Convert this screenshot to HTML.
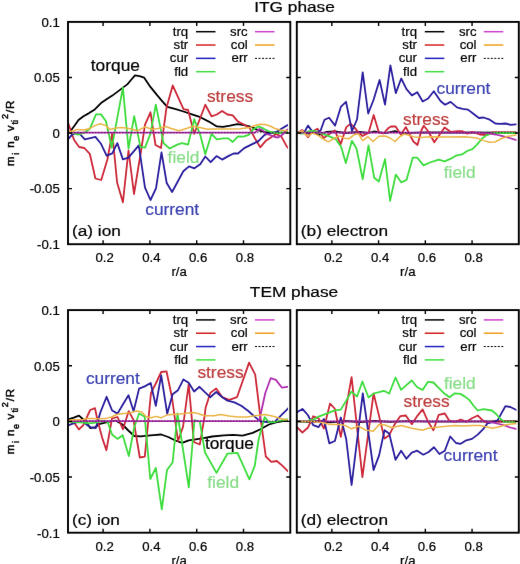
<!DOCTYPE html>
<html><head><meta charset="utf-8"><style>
html,body{margin:0;padding:0;background:#fff;}
svg{display:block;font-family:"Liberation Sans",sans-serif;will-change:transform;}
</style></head><body>
<svg width="520" height="564" viewBox="0 0 520 564">
<defs><filter id="bl" x="0" y="0" width="520" height="564" filterUnits="userSpaceOnUse" color-interpolation-filters="sRGB"><feConvolveMatrix order="3" kernelMatrix="0.005 0.035 0.005 0.035 0.84 0.035 0.005 0.035 0.005" preserveAlpha="false" edgeMode="duplicate"/></filter></defs>
<rect width="520" height="564" fill="#fff"/>
<g filter="url(#bl)">
<clipPath id="cpa"><rect x="68.0" y="21.9" width="219.90" height="222.30"/></clipPath>
<g clip-path="url(#cpa)">
<polyline points="68.0,133.0 70.4,131.3 74.1,126.3 78.5,120.0 83.5,116.3 89.1,113.1 94.8,109.4 101.0,103.1 107.3,98.8 112.3,95.6 117.3,91.9 122.3,88.1 127.3,84.4 131.0,80.0 135.0,75.4 139.6,76.2 144.2,77.7 150.4,86.9 157.3,95.4 161.9,100.8 167.3,106.9 175.8,109.2 183.5,111.5 192.7,114.6 200.4,117.2 208.8,121.6 216.8,126.4 223.0,126.9 230.1,125.7 237.2,124.2 244.2,125.1 251.3,126.9 258.4,130.4 265.5,132.2 274.0,132.7 290.0,132.7" fill="none" stroke="#000" stroke-width="1.8" stroke-linejoin="round"/>
<polyline points="68.0,122.5 71.0,131.3 74.1,140.0 79.1,147.0 84.3,148.0 89.8,153.8 95.4,178.5 101.2,180.0 107.4,159.5 112.3,133.0 117.1,182.5 122.9,202.3 128.5,150.5 134.0,194.0 141.5,148.0 145.0,124.6 150.5,112.3 155.5,145.0 161.0,148.0 166.5,107.7 172.7,85.4 183.5,109.2 188.1,110.0 194.2,133.8 205.3,104.8 211.5,116.3 216.8,114.5 222.1,111.0 227.4,114.5 232.7,115.4 238.0,121.6 243.4,124.2 249.6,127.8 254.9,138.4 260.2,147.3 265.5,141.1 270.8,137.5 276.1,134.0 281.4,136.6 286.7,146.4 290.0,150.0" fill="none" stroke="#cc2838" stroke-width="1.8" stroke-linejoin="round"/>
<polyline points="68.0,139.4 72.3,134.4 78.5,132.5 84.8,139.4 90.4,138.1 95.4,136.9 101.0,143.8 106.6,155.6 112.3,153.3 117.3,143.1 122.9,159.4 128.5,157.6 138.8,145.4 145.0,187.7 150.5,200.0 156.0,188.3 161.5,152.3 166.7,183.0 172.1,192.0 177.5,182.0 183.3,171.2 189.0,166.4 194.4,168.3 200.2,164.2 205.3,156.5 210.7,162.2 216.5,156.1 222.1,159.6 228.3,156.1 233.6,153.5 238.0,153.5 244.2,148.1 251.3,144.6 258.4,141.1 264.6,134.9 269.9,133.1 276.1,132.2 281.4,128.7 287.6,125.1 290.0,124.0" fill="none" stroke="#2a1e9e" stroke-width="1.8" stroke-linejoin="round"/>
<polyline points="68.7,132.7 74.0,133.4 78.1,134.7 84.0,133.0 89.8,128.8 96.0,114.4 101.0,114.4 106.0,121.3 111.8,147.7 122.9,87.6 128.5,148.5 134.2,116.1 140.4,146.9 145.0,147.7 150.4,133.8 155.8,104.6 163.5,143.1 169.6,148.5 177.3,144.6 181.9,143.1 188.1,144.6 194.2,119.2 200.4,135.4 205.3,154.3 211.5,134.0 216.8,139.3 223.0,138.4 228.3,138.4 232.7,142.0 238.0,136.3 243.4,136.6 248.7,134.9 253.1,129.6 258.4,126.4 263.7,128.7 270.8,132.2 277.9,133.1 285.0,132.2 290.0,131.0" fill="none" stroke="#3cdc3c" stroke-width="1.8" stroke-linejoin="round"/>
<polyline points="68.0,132.7 255.0,132.5 259.5,129.0 263.0,130.5 266.0,134.0 270.0,135.0 275.0,137.0 278.0,137.5 282.0,135.0 287.0,130.0 290.0,128.0" fill="none" stroke="#b030b0" stroke-width="1.8" stroke-linejoin="round"/>
<polyline points="68.7,132.0 74.0,130.7 77.3,129.4 83.5,130.0 89.1,128.8 94.8,125.6 100.4,123.8 106.0,125.6 109.8,129.4 116.0,128.1 121.0,127.5 126.0,128.1 131.0,129.0 137.3,130.8 145.0,126.9 151.9,129.2 158.0,128.5 165.8,126.5 171.2,128.5 178.8,130.8 186.5,128.5 192.7,126.2 200.0,127.5 207.1,129.3 214.2,129.0 223.0,129.0 232.0,129.1 240.0,128.8 250.0,127.5 255.0,125.5 260.0,124.2 265.0,124.5 270.0,126.0 275.0,128.5 280.0,130.0 285.0,130.5 290.0,130.5" fill="none" stroke="#ebb446" stroke-width="1.5" stroke-linejoin="round"/>
<polyline points="68.0,132.7 290.0,132.7" fill="none" stroke="#303" stroke-dasharray="1.5,1.5" stroke-width="1.2" stroke-opacity="0.55" stroke-linejoin="round"/>
<text transform="translate(90.80,70.60) scale(1.05,1)" font-size="16.5" text-anchor="start" fill="#000" stroke="#000" stroke-width="0.2" >torque</text>
<text transform="translate(206.90,101.90) scale(1.05,1)" font-size="16.5" text-anchor="start" fill="#bc3c3c" stroke="#bc3c3c" stroke-width="0.2" >stress</text>
<text transform="translate(167.60,163.40) scale(1.05,1)" font-size="16.5" text-anchor="start" fill="#88dd88" stroke="#88dd88" stroke-width="0.2" >field</text>
<text transform="translate(145.30,214.70) scale(1.05,1)" font-size="16.5" text-anchor="start" fill="#3a40b0" stroke="#3a40b0" stroke-width="0.2" >current</text>
</g>
<clipPath id="cpb"><rect x="296.8" y="21.9" width="219.60" height="222.30"/></clipPath>
<g clip-path="url(#cpb)">
<polyline points="297.0,133.0 302.0,132.0 308.0,133.5 314.0,132.5 319.0,135.0 326.0,132.0 335.0,131.5 345.0,133.0 352.0,132.5 360.0,132.0 368.0,133.0 373.7,131.5 385.0,133.2 395.0,131.2 402.0,133.0 410.0,132.8 425.0,132.3 519.0,132.7" fill="none" stroke="#000" stroke-width="1.8" stroke-linejoin="round"/>
<polyline points="297.5,133.0 302.2,130.0 307.9,137.3 312.5,131.5 317.5,128.8 323.7,138.1 328.5,134.5 334.8,130.5 340.6,144.4 346.3,127.1 350.7,123.8 355.0,128.1 357.9,131.9 362.5,136.0 368.5,132.9 373.7,115.0 378.8,132.3 383.5,133.5 388.1,128.3 391.0,126.5 395.6,126.5 400.8,134.6 405.9,127.1 409.4,134.0 413.4,141.5 417.5,145.0 421.5,130.0 423.8,125.8 428.4,131.5 434.3,142.3 444.6,127.5 450.8,131.9 457.9,131.2 462.0,131.1 467.2,133.7 472.4,131.9 479.8,134.5 487.1,135.0 492.0,132.5 519.0,132.5" fill="none" stroke="#cc2838" stroke-width="1.8" stroke-linejoin="round"/>
<polyline points="297.5,133.0 304.6,131.8 308.0,125.6 311.8,130.7 316.2,132.1 320.5,130.7 324.5,119.8 329.1,117.7 335.1,125.6 341.0,106.6 346.0,101.8 352.0,131.0 357.0,119.5 362.7,72.3 368.2,113.5 373.5,100.0 379.6,80.0 385.0,104.6 390.4,65.4 395.8,93.1 401.2,78.5 406.5,89.2 411.9,95.4 417.3,92.3 422.7,101.5 428.1,98.5 433.8,91.3 440.5,101.0 445.1,104.7 450.6,101.9 457.0,107.4 462.5,108.9 468.0,109.6 473.4,113.8 478.9,118.0 483.5,117.5 489.0,119.3 495.4,123.5 500.0,123.9 505.4,123.5 510.9,124.8 515.5,124.4 519.0,124.4" fill="none" stroke="#2a1e9e" stroke-width="1.8" stroke-linejoin="round"/>
<polyline points="297.5,133.0 303.0,133.5 308.3,131.5 311.4,130.8 315.2,131.2 318.5,132.5 322.7,133.8 328.8,136.2 335.8,139.2 341.2,146.9 345.8,163.1 351.9,140.8 356.5,148.5 362.7,179.2 368.5,145.4 374.2,177.7 378.8,181.5 385.0,159.2 390.1,200.8 395.8,174.6 401.2,182.3 406.5,180.0 412.7,157.7 417.3,157.7 423.5,165.4 430.0,162.5 438.7,159.6 444.7,161.3 450.8,158.7 456.8,155.3 462.0,154.4 467.2,151.0 472.4,149.2 476.7,144.9 481.9,138.8 486.2,135.4 490.6,133.7 495.0,133.0 519.0,133.0" fill="none" stroke="#3cdc3c" stroke-width="1.8" stroke-linejoin="round"/>
<polyline points="297.0,132.7 480.0,132.7 488.0,133.2 495.7,134.5 502.7,136.2 509.6,138.0 516.5,140.2 519.0,141.0" fill="none" stroke="#b030b0" stroke-width="1.8" stroke-linejoin="round"/>
<polyline points="297.5,133.0 302.2,130.8 307.5,136.5 312.5,133.0 318.3,135.4 322.2,138.5 328.3,141.8 333.0,139.0 339.6,135.8 344.4,138.2 349.2,138.7 354.0,134.8 358.4,133.8 362.7,140.6 368.0,136.7 373.1,141.5 378.8,136.3 385.0,136.0 390.0,138.0 395.0,141.5 399.6,136.9 404.2,134.0 408.8,135.2 414.6,136.9 420.4,137.5 430.0,136.8 447.3,137.1 464.6,136.8 476.7,138.0 483.6,140.6 489.7,142.3 494.9,142.0 500.9,138.8 507.9,136.2 516.5,135.0 519.0,134.8" fill="none" stroke="#ebb446" stroke-width="1.5" stroke-linejoin="round"/>
<polyline points="297.0,132.7 519.0,132.7" fill="none" stroke="#303" stroke-dasharray="1.5,1.5" stroke-width="1.2" stroke-opacity="0.55" stroke-linejoin="round"/>
<text transform="translate(436.50,94.10) scale(1.05,1)" font-size="16.5" text-anchor="start" fill="#3a40b0" stroke="#3a40b0" stroke-width="0.2" >current</text>
<text transform="translate(403.10,125.20) scale(1.05,1)" font-size="16.5" text-anchor="start" fill="#bc3c3c" stroke="#bc3c3c" stroke-width="0.2" >stress</text>
<text transform="translate(443.80,178.20) scale(1.05,1)" font-size="16.5" text-anchor="start" fill="#88dd88" stroke="#88dd88" stroke-width="0.2" >field</text>
</g>
<clipPath id="cpc"><rect x="68.0" y="310.1" width="219.90" height="222.60"/></clipPath>
<g clip-path="url(#cpc)">
<polyline points="68.2,419.5 73.8,417.7 79.0,415.6 83.3,419.5 86.8,422.9 90.2,428.1 95.4,427.2 98.9,424.2 104.1,422.9 109.3,421.6 116.0,420.7 122.5,424.5 128.3,430.5 134.3,436.0 140.5,436.3 147.8,435.6 153.5,435.2 161.2,434.5 168.2,437.0 175.4,440.5 182.1,442.8 188.8,440.3 195.6,439.4 202.3,438.3 212.3,436.5 223.9,435.4 233.2,434.8 242.6,435.6 252.7,432.9 259.9,429.5 269.0,424.5 275.9,422.3 283.0,421.2 290.0,421.0" fill="none" stroke="#000" stroke-width="1.8" stroke-linejoin="round"/>
<polyline points="68.2,420.8 74.7,423.4 79.0,429.4 83.3,425.1 87.6,415.6 90.2,410.0 95.0,408.2 97.1,418.2 99.7,428.5 102.3,438.1 106.4,450.2 112.0,418.5 117.5,417.0 123.0,429.3 128.7,411.1 133.5,419.9 139.8,457.5 144.8,456.6 151.0,392.8 155.8,383.5 161.2,372.0 166.5,371.3 171.9,397.0 178.0,441.0 183.0,427.0 188.7,384.1 193.9,442.0 199.8,444.5 204.8,415.0 205.6,407.7 210.3,392.9 216.2,388.5 222.3,397.2 229.2,399.8 237.0,397.2 249.1,362.6 255.2,374.7 260.4,417.1 265.8,456.5 271.3,461.9 276.8,461.0 282.3,465.6 287.8,471.1 290.0,473.0" fill="none" stroke="#cc2838" stroke-width="1.8" stroke-linejoin="round"/>
<polyline points="68.2,425.5 74.7,422.9 79.0,421.6 83.3,422.1 88.5,426.0 92.0,427.7 95.8,428.1 100.5,412.0 106.6,396.8 112.1,410.5 117.5,413.6 123.0,404.2 128.5,395.3 133.6,411.3 139.1,388.6 144.7,386.4 150.7,383.0 155.8,405.9 161.2,375.4 167.2,413.7 172.6,394.2 178.0,390.2 183.4,379.4 188.7,382.8 194.1,391.5 199.5,386.8 204.9,392.2 210.2,397.2 216.2,392.0 222.3,397.2 227.5,400.7 234.4,402.4 241.3,405.8 248.3,411.0 255.2,417.1 260.4,421.4 267.0,422.0 274.2,422.3 281.1,415.4 287.2,409.3 290.0,406.5" fill="none" stroke="#2a1e9e" stroke-width="1.8" stroke-linejoin="round"/>
<polyline points="68.2,421.5 75.0,422.0 83.3,422.5 88.5,423.4 93.7,422.9 100.0,421.5 104.0,421.0 107.5,421.8 112.1,434.5 117.4,438.9 122.7,435.2 128.8,456.0 134.3,427.0 139.1,413.5 144.7,416.7 150.3,479.0 155.8,468.0 161.8,509.3 167.0,470.0 172.6,462.5 177.5,413.5 188.8,487.4 194.5,420.0 199.8,421.7 205.0,452.5 216.5,472.9 227.4,453.7 237.5,452.8 249.4,479.3 254.8,465.6 258.5,440.0 264.7,417.1 269.0,422.3 275.0,422.0 281.0,420.5 287.0,419.5 290.0,419.5" fill="none" stroke="#3cdc3c" stroke-width="1.8" stroke-linejoin="round"/>
<polyline points="68.0,421.2 257.5,421.2 259.5,419.5 265.3,393.0 270.7,378.2 275.9,379.9 282.0,387.7 287.2,386.8 290.0,386.5" fill="none" stroke="#b030b0" stroke-width="1.8" stroke-linejoin="round"/>
<polyline points="68.2,420.3 75.0,419.8 83.3,419.5 86.8,418.6 92.0,418.6 98.0,418.8 105.8,418.6 112.0,416.7 117.5,414.3 123.9,413.5 130.3,412.7 136.7,411.1 141.5,411.9 146.3,416.7 151.0,417.8 155.8,416.4 161.2,417.8 166.5,415.1 171.9,414.4 180.0,414.0 188.1,413.1 193.5,412.4 198.8,413.7 204.2,415.8 209.6,415.8 214.0,415.8 220.6,414.5 229.0,416.0 237.9,417.1 247.0,417.0 256.9,415.4 264.7,414.5 273.3,416.2 281.1,418.8 287.2,419.7 290.0,420.0" fill="none" stroke="#ebb446" stroke-width="1.5" stroke-linejoin="round"/>
<polyline points="68.0,421.2 290.0,421.2" fill="none" stroke="#303" stroke-dasharray="1.5,1.5" stroke-width="1.2" stroke-opacity="0.55" stroke-linejoin="round"/>
<text transform="translate(85.90,383.50) scale(1.05,1)" font-size="16.5" text-anchor="start" fill="#3a40b0" stroke="#3a40b0" stroke-width="0.2" >current</text>
<text transform="translate(197.40,378.00) scale(1.05,1)" font-size="16.5" text-anchor="start" fill="#bc3c3c" stroke="#bc3c3c" stroke-width="0.2" >stress</text>
<text transform="translate(204.90,448.80) scale(1.05,1)" font-size="16.5" text-anchor="start" fill="#000" stroke="#000" stroke-width="0.2" >torque</text>
<text transform="translate(207.30,487.90) scale(1.05,1)" font-size="16.5" text-anchor="start" fill="#88dd88" stroke="#88dd88" stroke-width="0.2" >field</text>
</g>
<clipPath id="cpd"><rect x="296.8" y="310.1" width="219.60" height="222.60"/></clipPath>
<g clip-path="url(#cpd)">
<polyline points="297.0,421.5 310.0,422.0 320.0,421.0 330.0,422.3 345.0,421.0 360.0,422.0 375.0,421.0 390.0,421.8 410.0,421.2 430.0,421.7 519.0,421.4" fill="none" stroke="#000" stroke-width="1.8" stroke-linejoin="round"/>
<polyline points="297.0,427.1 302.4,432.5 307.8,427.8 313.2,416.3 318.6,418.4 323.9,428.5 330.0,403.6 334.7,408.5 340.8,436.8 351.6,377.1 362.4,477.1 373.6,393.4 384.5,438.6 389.2,435.2 394.6,424.4 400.4,416.1 405.8,415.5 411.8,424.2 417.2,416.1 422.6,409.4 428.0,421.5 433.4,430.3 438.7,414.8 444.8,413.5 449.5,420.9 455.0,421.8 460.7,419.7 466.3,421.8 472.0,418.3 477.7,415.5 482.0,419.7 486.2,422.6 493.0,421.5 519.0,421.5" fill="none" stroke="#cc2838" stroke-width="1.8" stroke-linejoin="round"/>
<polyline points="297.0,412.3 302.4,408.9 307.8,415.0 313.2,425.1 318.6,427.1 323.9,419.0 329.3,443.3 334.9,441.0 340.8,417.5 346.2,439.0 351.6,485.0 362.8,393.4 373.6,470.0 379.1,455.4 384.5,430.2 389.2,433.5 395.5,459.8 401.1,450.7 406.4,458.7 411.8,452.7 417.2,450.7 423.3,454.7 428.6,452.0 434.0,447.3 439.4,454.0 444.8,450.7 450.2,436.5 456.0,443.0 460.7,443.8 466.3,440.3 472.0,438.9 477.7,434.6 483.4,428.9 487.6,423.3 493.3,421.8 497.6,420.4 501.8,412.6 505.4,406.2 510.3,407.0 516.0,409.8 519.0,411.5" fill="none" stroke="#2a1e9e" stroke-width="1.8" stroke-linejoin="round"/>
<polyline points="297.0,421.5 305.0,421.5 313.2,419.7 319.2,416.3 326.6,413.6 334.7,410.3 340.8,409.6 346.1,400.9 351.3,391.6 357.1,396.5 362.4,381.5 368.5,397.5 373.8,393.5 383.8,390.8 389.2,393.5 395.5,377.5 401.1,389.9 406.4,385.2 411.8,380.5 417.2,387.2 422.6,389.9 428.0,381.8 433.4,382.5 438.7,387.9 444.1,393.3 449.5,397.3 454.9,393.3 460.3,393.9 465.0,396.6 469.2,399.9 473.4,405.5 477.7,410.5 483.4,409.1 491.9,410.5 496.1,414.0 500.4,419.0 504.6,421.8 519.0,421.5" fill="none" stroke="#3cdc3c" stroke-width="1.8" stroke-linejoin="round"/>
<polyline points="297.0,421.4 486.0,421.4 493.3,422.6 499.0,424.0 504.6,425.4 510.3,427.5 516.0,428.9 519.0,429.5" fill="none" stroke="#b030b0" stroke-width="1.8" stroke-linejoin="round"/>
<polyline points="297.0,421.5 313.0,421.5 322.0,422.5 330.0,424.4 340.0,424.5 346.1,425.8 351.5,428.8 358.3,426.2 365.4,430.0 373.3,431.2 379.0,424.4 385.0,425.0 391.9,427.8 395.0,426.9 401.1,425.6 411.8,428.3 422.6,430.3 428.0,428.3 438.7,426.9 454.9,425.6 463.5,426.1 472.0,425.4 480.0,425.5 486.2,426.8 492.6,428.2 499.0,426.8 506.1,424.7 511.7,424.0 519.0,423.3" fill="none" stroke="#ebb446" stroke-width="1.5" stroke-linejoin="round"/>
<polyline points="297.0,421.4 519.0,421.4" fill="none" stroke="#303" stroke-dasharray="1.5,1.5" stroke-width="1.2" stroke-opacity="0.55" stroke-linejoin="round"/>
<text transform="translate(443.90,389.40) scale(1.05,1)" font-size="16.5" text-anchor="start" fill="#88dd88" stroke="#88dd88" stroke-width="0.2" >field</text>
<text transform="translate(403.50,407.10) scale(1.05,1)" font-size="16.5" text-anchor="start" fill="#bc3c3c" stroke="#bc3c3c" stroke-width="0.2" >stress</text>
<text transform="translate(443.60,461.20) scale(1.05,1)" font-size="16.5" text-anchor="start" fill="#3a40b0" stroke="#3a40b0" stroke-width="0.2" >current</text>
</g>
<path d="M103.10,244.20v-4M103.10,21.90v4M149.90,244.20v-4M149.90,21.90v4M196.70,244.20v-4M196.70,21.90v4M243.50,244.20v-4M243.50,21.90v4M68.00,77.47h4M290.30,77.47h-4M68.00,133.05h4M290.30,133.05h-4M68.00,188.63h4M290.30,188.63h-4" stroke="#000" stroke-width="1.4" fill="none"/>
<rect x="68.0" y="21.9" width="222.30" height="222.30" stroke="#000" stroke-width="1.9" fill="none"/>
<text transform="translate(104.60,261.80) scale(1.1,1)" font-size="12.0" text-anchor="middle" fill="#000" stroke="#000" stroke-width="0.2" >0.2</text>
<text transform="translate(151.40,261.80) scale(1.1,1)" font-size="12.0" text-anchor="middle" fill="#000" stroke="#000" stroke-width="0.2" >0.4</text>
<text transform="translate(198.20,261.80) scale(1.1,1)" font-size="12.0" text-anchor="middle" fill="#000" stroke="#000" stroke-width="0.2" >0.6</text>
<text transform="translate(245.00,261.80) scale(1.1,1)" font-size="12.0" text-anchor="middle" fill="#000" stroke="#000" stroke-width="0.2" >0.8</text>
<text transform="translate(179.15,275.50) scale(1.1,1)" font-size="12.0" text-anchor="middle" fill="#000" stroke="#000" stroke-width="0.2" >r/a</text>
<text transform="translate(188.20,35.80) scale(1.1,1)" font-size="12.0" text-anchor="end" fill="#000" stroke="#000" stroke-width="0.2" >trq</text>
<path d="M196.00,31.70h19.5" stroke="#000" stroke-width="1.5"/>
<text transform="translate(188.20,49.13) scale(1.1,1)" font-size="12.0" text-anchor="end" fill="#000" stroke="#000" stroke-width="0.2" >str</text>
<path d="M196.00,45.03h19.5" stroke="#d42020" stroke-width="1.5"/>
<text transform="translate(188.20,62.46) scale(1.1,1)" font-size="12.0" text-anchor="end" fill="#000" stroke="#000" stroke-width="0.2" >cur</text>
<path d="M196.00,58.36h19.5" stroke="#2020c0" stroke-width="1.5"/>
<text transform="translate(188.20,75.79) scale(1.1,1)" font-size="12.0" text-anchor="end" fill="#000" stroke="#000" stroke-width="0.2" >fld</text>
<path d="M196.00,71.69h19.5" stroke="#40e040" stroke-width="1.5"/>
<text transform="translate(247.70,35.80) scale(1.1,1)" font-size="12.0" text-anchor="end" fill="#000" stroke="#000" stroke-width="0.2" >src</text>
<path d="M255.00,31.70h19.5" stroke="#d040d0" stroke-width="1.5"/>
<text transform="translate(247.70,49.13) scale(1.1,1)" font-size="12.0" text-anchor="end" fill="#000" stroke="#000" stroke-width="0.2" >col</text>
<path d="M255.00,45.03h19.5" stroke="#f0a020" stroke-width="1.5"/>
<text transform="translate(247.70,62.46) scale(1.1,1)" font-size="12.0" text-anchor="end" fill="#000" stroke="#000" stroke-width="0.2" >err</text>
<path d="M255.00,58.36h19.5" stroke="#000" stroke-width="1.0" stroke-dasharray="2,1.5"/>
<path d="M331.85,244.20v-4M331.85,21.90v4M378.59,244.20v-4M378.59,21.90v4M425.33,244.20v-4M425.33,21.90v4M472.06,244.20v-4M472.06,21.90v4M296.80,77.47h4M518.80,77.47h-4M296.80,133.05h4M518.80,133.05h-4M296.80,188.63h4M518.80,188.63h-4" stroke="#000" stroke-width="1.4" fill="none"/>
<rect x="296.8" y="21.9" width="222.00" height="222.30" stroke="#000" stroke-width="1.9" fill="none"/>
<text transform="translate(333.35,261.80) scale(1.1,1)" font-size="12.0" text-anchor="middle" fill="#000" stroke="#000" stroke-width="0.2" >0.2</text>
<text transform="translate(380.09,261.80) scale(1.1,1)" font-size="12.0" text-anchor="middle" fill="#000" stroke="#000" stroke-width="0.2" >0.4</text>
<text transform="translate(426.83,261.80) scale(1.1,1)" font-size="12.0" text-anchor="middle" fill="#000" stroke="#000" stroke-width="0.2" >0.6</text>
<text transform="translate(473.56,261.80) scale(1.1,1)" font-size="12.0" text-anchor="middle" fill="#000" stroke="#000" stroke-width="0.2" >0.8</text>
<text transform="translate(407.80,275.50) scale(1.1,1)" font-size="12.0" text-anchor="middle" fill="#000" stroke="#000" stroke-width="0.2" >r/a</text>
<text transform="translate(417.00,35.80) scale(1.1,1)" font-size="12.0" text-anchor="end" fill="#000" stroke="#000" stroke-width="0.2" >trq</text>
<path d="M424.80,31.70h19.5" stroke="#000" stroke-width="1.5"/>
<text transform="translate(417.00,49.13) scale(1.1,1)" font-size="12.0" text-anchor="end" fill="#000" stroke="#000" stroke-width="0.2" >str</text>
<path d="M424.80,45.03h19.5" stroke="#d42020" stroke-width="1.5"/>
<text transform="translate(417.00,62.46) scale(1.1,1)" font-size="12.0" text-anchor="end" fill="#000" stroke="#000" stroke-width="0.2" >cur</text>
<path d="M424.80,58.36h19.5" stroke="#2020c0" stroke-width="1.5"/>
<text transform="translate(417.00,75.79) scale(1.1,1)" font-size="12.0" text-anchor="end" fill="#000" stroke="#000" stroke-width="0.2" >fld</text>
<path d="M424.80,71.69h19.5" stroke="#40e040" stroke-width="1.5"/>
<text transform="translate(476.50,35.80) scale(1.1,1)" font-size="12.0" text-anchor="end" fill="#000" stroke="#000" stroke-width="0.2" >src</text>
<path d="M483.80,31.70h19.5" stroke="#d040d0" stroke-width="1.5"/>
<text transform="translate(476.50,49.13) scale(1.1,1)" font-size="12.0" text-anchor="end" fill="#000" stroke="#000" stroke-width="0.2" >col</text>
<path d="M483.80,45.03h19.5" stroke="#f0a020" stroke-width="1.5"/>
<text transform="translate(476.50,62.46) scale(1.1,1)" font-size="12.0" text-anchor="end" fill="#000" stroke="#000" stroke-width="0.2" >err</text>
<path d="M483.80,58.36h19.5" stroke="#000" stroke-width="1.0" stroke-dasharray="2,1.5"/>
<path d="M103.10,532.70v-4M103.10,310.10v4M149.90,532.70v-4M149.90,310.10v4M196.70,532.70v-4M196.70,310.10v4M243.50,532.70v-4M243.50,310.10v4M68.00,365.75h4M290.30,365.75h-4M68.00,421.40h4M290.30,421.40h-4M68.00,477.05h4M290.30,477.05h-4" stroke="#000" stroke-width="1.4" fill="none"/>
<rect x="68.0" y="310.1" width="222.30" height="222.60" stroke="#000" stroke-width="1.9" fill="none"/>
<text transform="translate(104.60,550.90) scale(1.1,1)" font-size="12.0" text-anchor="middle" fill="#000" stroke="#000" stroke-width="0.2" >0.2</text>
<text transform="translate(151.40,550.90) scale(1.1,1)" font-size="12.0" text-anchor="middle" fill="#000" stroke="#000" stroke-width="0.2" >0.4</text>
<text transform="translate(198.20,550.90) scale(1.1,1)" font-size="12.0" text-anchor="middle" fill="#000" stroke="#000" stroke-width="0.2" >0.6</text>
<text transform="translate(245.00,550.90) scale(1.1,1)" font-size="12.0" text-anchor="middle" fill="#000" stroke="#000" stroke-width="0.2" >0.8</text>
<text transform="translate(179.15,564.60) scale(1.1,1)" font-size="12.0" text-anchor="middle" fill="#000" stroke="#000" stroke-width="0.2" >r/a</text>
<text transform="translate(188.20,324.00) scale(1.1,1)" font-size="12.0" text-anchor="end" fill="#000" stroke="#000" stroke-width="0.2" >trq</text>
<path d="M196.00,319.90h19.5" stroke="#000" stroke-width="1.5"/>
<text transform="translate(188.20,337.33) scale(1.1,1)" font-size="12.0" text-anchor="end" fill="#000" stroke="#000" stroke-width="0.2" >str</text>
<path d="M196.00,333.23h19.5" stroke="#d42020" stroke-width="1.5"/>
<text transform="translate(188.20,350.66) scale(1.1,1)" font-size="12.0" text-anchor="end" fill="#000" stroke="#000" stroke-width="0.2" >cur</text>
<path d="M196.00,346.56h19.5" stroke="#2020c0" stroke-width="1.5"/>
<text transform="translate(188.20,363.99) scale(1.1,1)" font-size="12.0" text-anchor="end" fill="#000" stroke="#000" stroke-width="0.2" >fld</text>
<path d="M196.00,359.89h19.5" stroke="#40e040" stroke-width="1.5"/>
<text transform="translate(247.70,324.00) scale(1.1,1)" font-size="12.0" text-anchor="end" fill="#000" stroke="#000" stroke-width="0.2" >src</text>
<path d="M255.00,319.90h19.5" stroke="#d040d0" stroke-width="1.5"/>
<text transform="translate(247.70,337.33) scale(1.1,1)" font-size="12.0" text-anchor="end" fill="#000" stroke="#000" stroke-width="0.2" >col</text>
<path d="M255.00,333.23h19.5" stroke="#f0a020" stroke-width="1.5"/>
<text transform="translate(247.70,350.66) scale(1.1,1)" font-size="12.0" text-anchor="end" fill="#000" stroke="#000" stroke-width="0.2" >err</text>
<path d="M255.00,346.56h19.5" stroke="#000" stroke-width="1.0" stroke-dasharray="2,1.5"/>
<path d="M331.85,532.70v-4M331.85,310.10v4M378.59,532.70v-4M378.59,310.10v4M425.33,532.70v-4M425.33,310.10v4M472.06,532.70v-4M472.06,310.10v4M296.80,365.75h4M518.80,365.75h-4M296.80,421.40h4M518.80,421.40h-4M296.80,477.05h4M518.80,477.05h-4" stroke="#000" stroke-width="1.4" fill="none"/>
<rect x="296.8" y="310.1" width="222.00" height="222.60" stroke="#000" stroke-width="1.9" fill="none"/>
<text transform="translate(333.35,550.90) scale(1.1,1)" font-size="12.0" text-anchor="middle" fill="#000" stroke="#000" stroke-width="0.2" >0.2</text>
<text transform="translate(380.09,550.90) scale(1.1,1)" font-size="12.0" text-anchor="middle" fill="#000" stroke="#000" stroke-width="0.2" >0.4</text>
<text transform="translate(426.83,550.90) scale(1.1,1)" font-size="12.0" text-anchor="middle" fill="#000" stroke="#000" stroke-width="0.2" >0.6</text>
<text transform="translate(473.56,550.90) scale(1.1,1)" font-size="12.0" text-anchor="middle" fill="#000" stroke="#000" stroke-width="0.2" >0.8</text>
<text transform="translate(407.80,564.60) scale(1.1,1)" font-size="12.0" text-anchor="middle" fill="#000" stroke="#000" stroke-width="0.2" >r/a</text>
<text transform="translate(417.00,324.00) scale(1.1,1)" font-size="12.0" text-anchor="end" fill="#000" stroke="#000" stroke-width="0.2" >trq</text>
<path d="M424.80,319.90h19.5" stroke="#000" stroke-width="1.5"/>
<text transform="translate(417.00,337.33) scale(1.1,1)" font-size="12.0" text-anchor="end" fill="#000" stroke="#000" stroke-width="0.2" >str</text>
<path d="M424.80,333.23h19.5" stroke="#d42020" stroke-width="1.5"/>
<text transform="translate(417.00,350.66) scale(1.1,1)" font-size="12.0" text-anchor="end" fill="#000" stroke="#000" stroke-width="0.2" >cur</text>
<path d="M424.80,346.56h19.5" stroke="#2020c0" stroke-width="1.5"/>
<text transform="translate(417.00,363.99) scale(1.1,1)" font-size="12.0" text-anchor="end" fill="#000" stroke="#000" stroke-width="0.2" >fld</text>
<path d="M424.80,359.89h19.5" stroke="#40e040" stroke-width="1.5"/>
<text transform="translate(476.50,324.00) scale(1.1,1)" font-size="12.0" text-anchor="end" fill="#000" stroke="#000" stroke-width="0.2" >src</text>
<path d="M483.80,319.90h19.5" stroke="#d040d0" stroke-width="1.5"/>
<text transform="translate(476.50,337.33) scale(1.1,1)" font-size="12.0" text-anchor="end" fill="#000" stroke="#000" stroke-width="0.2" >col</text>
<path d="M483.80,333.23h19.5" stroke="#f0a020" stroke-width="1.5"/>
<text transform="translate(476.50,350.66) scale(1.1,1)" font-size="12.0" text-anchor="end" fill="#000" stroke="#000" stroke-width="0.2" >err</text>
<path d="M483.80,346.56h19.5" stroke="#000" stroke-width="1.0" stroke-dasharray="2,1.5"/>
<text transform="translate(59.80,26.70) scale(1.1,1)" font-size="12.0" text-anchor="end" fill="#000" stroke="#000" stroke-width="0.2" >0.1</text>
<text transform="translate(59.80,82.27) scale(1.1,1)" font-size="12.0" text-anchor="end" fill="#000" stroke="#000" stroke-width="0.2" >0.05</text>
<text transform="translate(59.80,137.85) scale(1.1,1)" font-size="12.0" text-anchor="end" fill="#000" stroke="#000" stroke-width="0.2" >0</text>
<text transform="translate(59.80,193.43) scale(1.1,1)" font-size="12.0" text-anchor="end" fill="#000" stroke="#000" stroke-width="0.2" >-0.05</text>
<text transform="translate(59.80,249.00) scale(1.1,1)" font-size="12.0" text-anchor="end" fill="#000" stroke="#000" stroke-width="0.2" >-0.1</text>
<g transform="translate(14.1,165.90) rotate(-90)"><text x="4.65" y="0" font-size="11.5" text-anchor="middle" stroke="#000" stroke-width="0.45">m</text><text x="12.2" y="4.5" font-size="9" text-anchor="middle" stroke="#000" stroke-width="0.45">i</text><text x="21.3" y="0" font-size="11.5" text-anchor="middle" stroke="#000" stroke-width="0.45">n</text><text x="27.65" y="4.5" font-size="9" text-anchor="middle" stroke="#000" stroke-width="0.45">e</text><text x="37.6" y="0" font-size="11.5" text-anchor="middle" stroke="#000" stroke-width="0.45">v</text><text x="43.75" y="4.1" font-size="9" text-anchor="middle" stroke="#000" stroke-width="0.45">ti</text><text x="49.45" y="-6.3" font-size="9" text-anchor="middle" stroke="#000" stroke-width="0.45">2</text><text x="54.4" y="0" font-size="11.5" text-anchor="middle" stroke="#000" stroke-width="0.45">/</text><text x="61.05" y="0" font-size="11.5" text-anchor="middle" stroke="#000" stroke-width="0.45">R</text></g>
<text transform="translate(59.80,314.90) scale(1.1,1)" font-size="12.0" text-anchor="end" fill="#000" stroke="#000" stroke-width="0.2" >0.1</text>
<text transform="translate(59.80,370.55) scale(1.1,1)" font-size="12.0" text-anchor="end" fill="#000" stroke="#000" stroke-width="0.2" >0.05</text>
<text transform="translate(59.80,426.20) scale(1.1,1)" font-size="12.0" text-anchor="end" fill="#000" stroke="#000" stroke-width="0.2" >0</text>
<text transform="translate(59.80,481.85) scale(1.1,1)" font-size="12.0" text-anchor="end" fill="#000" stroke="#000" stroke-width="0.2" >-0.05</text>
<text transform="translate(59.80,537.50) scale(1.1,1)" font-size="12.0" text-anchor="end" fill="#000" stroke="#000" stroke-width="0.2" >-0.1</text>
<g transform="translate(14.1,454.10) rotate(-90)"><text x="4.65" y="0" font-size="11.5" text-anchor="middle" stroke="#000" stroke-width="0.45">m</text><text x="12.2" y="4.5" font-size="9" text-anchor="middle" stroke="#000" stroke-width="0.45">i</text><text x="21.3" y="0" font-size="11.5" text-anchor="middle" stroke="#000" stroke-width="0.45">n</text><text x="27.65" y="4.5" font-size="9" text-anchor="middle" stroke="#000" stroke-width="0.45">e</text><text x="37.6" y="0" font-size="11.5" text-anchor="middle" stroke="#000" stroke-width="0.45">v</text><text x="43.75" y="4.1" font-size="9" text-anchor="middle" stroke="#000" stroke-width="0.45">ti</text><text x="49.45" y="-6.3" font-size="9" text-anchor="middle" stroke="#000" stroke-width="0.45">2</text><text x="54.4" y="0" font-size="11.5" text-anchor="middle" stroke="#000" stroke-width="0.45">/</text><text x="61.05" y="0" font-size="11.5" text-anchor="middle" stroke="#000" stroke-width="0.45">R</text></g>
<text transform="translate(294.50,12.30) scale(1.234,1)" font-size="14.0" text-anchor="middle" fill="#000" stroke="#000" stroke-width="0.2" >ITG phase</text>
<text transform="translate(294.00,296.90) scale(1.234,1)" font-size="14.0" text-anchor="middle" fill="#000" stroke="#000" stroke-width="0.2" >TEM phase</text>
<text transform="translate(72.00,236.40) scale(1.15,1)" font-size="15" text-anchor="start" fill="#000" stroke="#000" stroke-width="0.2" >(a) ion</text>
<text transform="translate(300.80,236.40) scale(1.15,1)" font-size="15" text-anchor="start" fill="#000" stroke="#000" stroke-width="0.2" >(b) electron</text>
<text transform="translate(72.00,524.50) scale(1.15,1)" font-size="15" text-anchor="start" fill="#000" stroke="#000" stroke-width="0.2" >(c) ion</text>
<text transform="translate(300.80,524.50) scale(1.15,1)" font-size="15" text-anchor="start" fill="#000" stroke="#000" stroke-width="0.2" >(d) electron</text>
</g>
</svg></body></html>
